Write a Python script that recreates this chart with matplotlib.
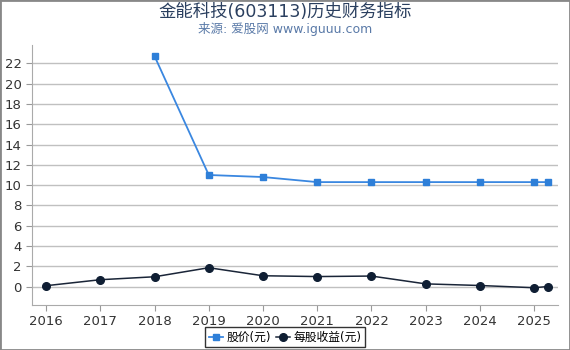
import matplotlib
matplotlib.use("Agg")
import matplotlib.pyplot as plt

plt.rcParams['font.family'] = ['DejaVu Sans', 'Noto Sans CJK SC']

# data
years_price = [2018, 2019, 2020, 2021, 2022, 2023, 2024, 2025, 2025.25]
price = [22.7, 11.0, 10.8, 10.3, 10.3, 10.3, 10.3, 10.3, 10.3]
years_eps = [2016, 2017, 2018, 2019, 2020, 2021, 2022, 2023, 2024, 2025, 2025.25]
eps = [0.1, 0.69, 0.98, 1.87, 1.08, 1.0, 1.05, 0.28, 0.12, -0.1, 0.02]
xticks = list(range(2016, 2026))
yticks = list(range(0, 23, 2))

fig = plt.figure(figsize=(5.7, 3.5), dpi=100)
ax = fig.add_axes([32/570, 1 - 305/350, (558-32)/570, (305-45)/350])

ax.plot(years_price, price, color='#3a87e0', marker='s', markersize=5,
        markerfacecolor='#2e7fd8', markeredgecolor='#2e7fd8', linewidth=1.3,
        label='股价(元)')
ax.plot(years_eps, eps, color='#1a2538', marker='o', markersize=5.5,
        markerfacecolor='#0f1e33', markeredgecolor='#0f1e33', linewidth=1.1,
        label='每股收益(元)')

ax.set_xlim(2015.74, 2025.44)
ax.set_ylim(-1.8, 23.8)
ax.set_xticks(xticks)
ax.set_yticks(yticks)
ax.tick_params(axis='y', length=4, colors='#999999', labelcolor='#333333', labelsize=9.5)
ax.tick_params(axis='x', length=4, colors='#999999', labelcolor='#333333', labelsize=9.5)
ax.grid(axis='y', color='#c0c0c0', linewidth=1)
ax.set_axisbelow(True)
for s in ['top', 'right']:
    ax.spines[s].set_visible(False)
for s in ['left', 'bottom']:
    ax.spines[s].set_color('#aaaaaa')

fig.text(0.5, 0.965, '金能科技(603113)历史财务指标', ha='center', va='center',
         fontsize=12.5, color='#2a3f5f')
fig.text(0.5, 0.918, '来源: 爱股网 www.iguuu.com', ha='center', va='center',
         fontsize=9, color='#5a7aa8')

leg = fig.legend(loc='center', bbox_to_anchor=(0.5, 0.036), ncol=2, fontsize=8.5,
                 frameon=True, fancybox=False, edgecolor='black',
                 handlelength=1.2, handletextpad=0.3, columnspacing=0.4,
                 borderpad=0.3, borderaxespad=0)
leg.get_frame().set_linewidth(1)

fig.patches.append(plt.Rectangle((0, 0), 1, 1, transform=fig.transFigure,
                                 fill=False, edgecolor='#888888', linewidth=2))

fig.savefig('out.png', dpi=100)
